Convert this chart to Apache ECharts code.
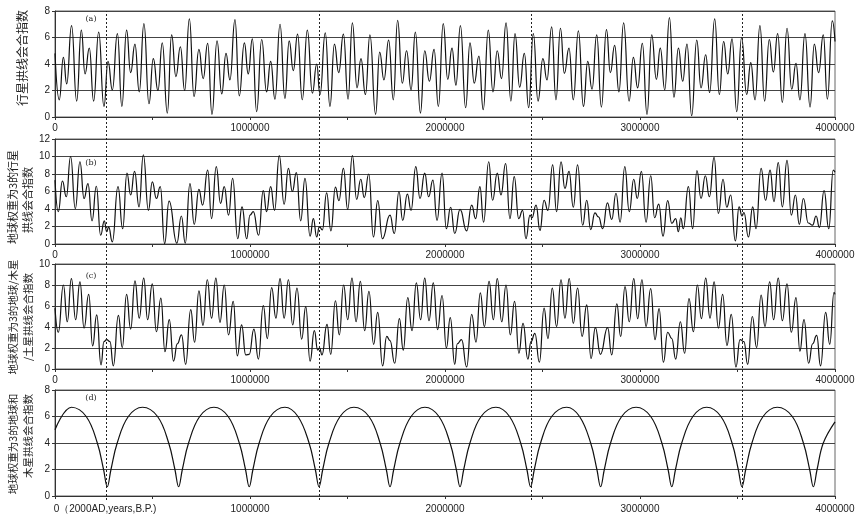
<!DOCTYPE html>
<html>
<head>
<meta charset="utf-8">
<title>行星拱线会合指数</title>
<script src="https://cdn.jsdelivr.net/npm/echarts@6/dist/echarts.min.js"></script>
<style>
html,body{margin:0;padding:0;background:#fff;}
#chart_main{width:862px;height:522px;}
</style>
</head>
<body>
<div id="chart_main"></div>
<script>
/*---------------- data: [千年 B.P., 指数] ----------------*/
var curveA = [[0,4.8],[22,1.3],[43,4.5],[60,2.5],[85,6.9],[111,1.2],[135,6.55],[154,3.25],[176,5.2],[198,1.2],[224,6.4],[251,0.8],[272,4.2],[294,2.05],[320,6.3],[343,0.8],[367,6.55],[388,3.35],[410,5.5],[432,1.9],[456,7.05],[482,1.0],[504,4.4],[528,2.0],[550,5.6],[576,0.3],[598,6.2],[620,3.05],[643,5.3],[665,2.0],[689,7.4],[713,1.55],[738,5.1],[760,2.9],[783,5.55],[805,0.2],[831,5.75],[855,1.75],[877,4.8],[897,2.8],[923,7.35],[945,1.6],[971,5.6],[991,3.25],[1012,5.9],[1034,0.4],[1060,5.85],[1085,1.9],[1106,4.2],[1128,1.35],[1154,7.0],[1179,1.4],[1201,5.75],[1222,3.5],[1244,6.25],
  [1268,1.3],[1294,6.55],[1320,1.8],[1342,4.0],[1359,1.7],[1386,6.35],[1410,0.8],[1433,5.5],[1455,3.35],[1479,6.25],[1503,1.35],[1525,7.1],[1549,2.2],[1569,4.4],[1592,1.7],[1615,6.2],[1644,0.2],[1665,4.9],[1687,2.8],[1711,5.8],[1735,1.3],[1757,7.3],[1781,2.55],[1803,5.0],[1826,2.05],[1848,6.4],[1874,0.3],[1896,5.0],[1920,2.7],[1944,5.1],[1966,0.8],[1991,7.05],[2014,2.85],[2036,5.2],[2056,2.4],[2079,6.9],[2106,0.7],[2128,5.6],[2150,2.55],[2174,4.6],[2196,0.55],[2222,6.55],[2246,1.9],[2268,5.0],[2290,2.9],[2313,7.1],[2338,1.2],[2359,6.3],[2383,2.25],[2407,4.8],[2429,0.7],[2453,6.3],[2477,1.2],[2502,4.4],[2523,2.8],[2547,6.8],[2569,1.3],[2592,6.7],
  [2612,3.3],[2636,5.2],[2658,1.3],[2684,6.5],[2710,0.8],[2732,4.2],[2754,2.1],[2778,6.2],[2802,0.75],[2828,6.6],[2848,3.35],[2870,5.4],[2892,1.9],[2916,7.1],[2944,1.2],[2966,4.5],[2988,2.2],[3012,5.55],[3036,0.2],[3060,6.2],[3084,2.85],[3104,5.2],[3127,2.05],[3151,7.5],[3174,1.5],[3197,5.2],[3219,2.7],[3241,5.5],[3265,0.1],[3291,5.8],[3313,2.2],[3337,4.7],[3357,1.85],[3383,7.4],[3407,1.7],[3429,5.7],[3450,3.25],[3472,5.9],[3496,0.4],[3521,6.0],[3547,1.7],[3568,4.1],[3590,1.3],[3615,6.9],[3639,1.2],[3663,5.85],[3684,3.4],[3706,6.3],[3730,1.1],[3754,6.7],[3778,2.1],[3800,4.05],[3820,1.3],[3846,6.3],[3872,0.75],[3894,5.5],[3916,3.35],[3940,6.2],[3961,1.35],[3986,7.25],[4000,5.7]];

var curveB = [[0,7.3],[17,3.7],[38,7.2],[58,5.4],[80,10.0],[104,4.05],[128,9.4],[149,5.2],[169,6.9],[190,2.65],[212,6.6],[234,1.0],[253,2.65],[265,1.4],[275,1.95],[294,0.25],[323,6.55],[347,1.75],[369,8.1],[388,5.6],[408,8.3],[431,4.25],[453,10.2],[479,3.85],[499,7.1],[520,5.2],[540,6.55],[562,0.05],[585,4.9],[625,0.1],[648,3.2],[668,0.1],[692,6.9],[714,2.25],[738,6.25],[757,4.45],[783,8.45],[803,2.9],[827,8.85],[849,4.65],[868,6.55],[890,3.3],[911,7.5],[937,0.6],[959,4.25],[983,0.6],[1000,3.3],[1017,3.7],[1044,1.0],[1068,6.1],[1085,3.7],[1106,6.55],[1126,3.85],[1150,10.1],
  [1175,4.55],[1197,8.65],[1217,6.0],[1238,8.15],[1260,2.65],[1282,7.5],[1308,0.9],[1325,2.9],[1342,0.8],[1356,2.0],[1371,1.6],[1393,5.85],[1415,1.5],[1438,6.5],[1456,4.95],[1479,8.65],[1501,3.95],[1525,10.1],[1547,5.1],[1568,7.4],[1586,5.3],[1609,8.0],[1633,0.8],[1655,4.95],[1679,0.6],[1718,3.3],[1740,1.2],[1764,6.0],[1783,2.7],[1807,5.7],[1826,3.85],[1850,8.85],[1872,5.2],[1896,8.1],[1916,5.4],[1938,7.3],[1959,2.7],[1985,8.1],[2007,1.75],[2029,4.2],[2050,1.2],[2077,3.95],[2111,1.5],[2137,4.45],[2157,2.9],[2179,6.55],[2198,2.5],[2224,9.4],[2244,5.0],[2268,8.1],[2287,5.6],[2311,9.2],[2333,2.9],[2355,7.7],[2378,2.9],[2398,3.85],[2415,0.6],[2436,3.3],[2446,3.0],[2467,4.45],[2487,1.55],[2508,5.0],[2528,3.85],[2552,9.05],[2572,3.7],[2595,9.4],[2615,6.35],[2636,8.3],[2658,4.2],[2680,9.05],
  [2706,2.15],[2727,5.0],[2747,1.65],[2769,3.55],[2787,3.1],[2809,1.75],[2833,4.7],[2855,2.8],[2877,5.8],[2898,2.5],[2922,8.85],[2945,3.7],[2968,7.4],[2986,5.2],[3007,8.3],[3031,2.5],[3055,7.8],[3075,3.0],[3096,4.55],[3118,0.9],[3142,4.95],[3163,2.35],[3183,2.9],[3197,1.4],[3209,3.0],[3222,1.75],[3248,6.55],[3270,1.75],[3292,8.4],[3313,5.2],[3335,7.8],[3356,5.4],[3380,9.9],[3402,3.5],[3426,7.4],[3445,4.2],[3465,5.6],[3489,0.35],[3508,4.25],[3523,3.2],[3533,3.6],[3556,0.8],[3578,4.25],[3595,1.75],[3621,8.65],[3644,5.0],[3667,8.45],[3687,4.85],[3709,9.3],[3730,4.25],[3754,9.55],[3776,3.3],[3797,5.6],[3817,2.25],[3838,5.2],[3863,2.4],[3885,2.15],[3903,3.2],[3920,1.9],[3944,6.1],[3968,1.75],[3991,8.45],[4000,8.2]];

var curveC = [[0,5.8],[17,3.5],[43,8.0],[63,4.5],[84,8.6],[106,4.7],[128,8.3],[149,3.9],[173,7.1],[193,2.2],[214,5.15],[236,0.4],[251,2.6],[265,2.8],[282,2.6],[299,0.3],[325,5.1],[345,2.05],[367,7.1],[388,3.8],[410,8.4],[432,4.85],[455,8.65],[475,4.7],[499,8.1],[520,3.55],[543,6.75],[564,1.65],[586,4.7],[608,0.75],[627,2.4],[649,3.25],[670,0.45],[696,5.65],[716,2.55],[738,7.45],[759,4.15],[781,8.5],[803,4.85],[825,8.65],[846,4.45],[868,8.0],[890,3.25],[914,6.45],[935,1.25],[957,4.2],[978,1.35],[996,1.4],[1020,3.8],[1043,0.95],[1068,6.05],[1089,2.9],[1111,7.75],[1133,4.85],[1154,8.6],
  [1175,4.85],[1197,8.5],[1219,4.2],[1241,7.7],[1265,2.85],[1286,5.95],[1308,0.75],[1330,3.65],[1347,1.8],[1357,2.0],[1369,1.35],[1395,4.25],[1414,1.4],[1438,6.5],[1458,3.25],[1480,8.0],[1501,4.7],[1523,8.65],[1544,4.5],[1566,8.35],[1588,3.65],[1610,7.4],[1634,2.35],[1655,5.4],[1680,0.3],[1701,3.1],[1718,2.7],[1742,0.55],[1766,4.8],[1786,1.8],[1809,6.8],[1831,3.65],[1853,8.2],[1875,4.7],[1896,8.65],[1918,4.6],[1940,8.2],[1962,3.75],[1985,7.0],[2007,2.0],[2027,4.9],[2050,0.45],[2063,2.4],[2085,2.8],[2111,0.2],[2137,5.2],[2159,2.55],[2181,7.25],[2202,4.05],[2226,8.35],[2248,4.7],[2268,8.6],[2291,4.5],[2313,8.0],[2335,3.25],[2357,6.45],[2379,1.5],[2400,4.35],[2425,0.95],[2441,2.6],[2461,3.4],[2484,0.65],[2508,5.8],[2528,2.9],[2550,7.7],[2572,4.05],[2595,8.5],[2615,4.85],[2637,8.6],[2658,4.35],[2680,7.7],
  [2703,3.1],[2727,6.1],[2749,1.0],[2771,3.95],[2797,1.4],[2834,3.95],[2855,1.35],[2881,6.2],[2901,3.1],[2923,7.85],[2945,4.5],[2968,8.6],[2988,4.8],[3010,8.5],[3031,4.05],[3055,7.65],[3077,2.8],[3098,5.75],[3120,0.65],[3142,3.5],[3163,2.9],[3183,0.95],[3207,4.5],[3229,1.5],[3251,6.7],[3274,3.55],[3294,8.0],[3315,4.8],[3337,8.65],[3359,4.85],[3380,8.3],[3402,3.9],[3424,7.1],[3446,2.25],[3468,5.2],[3492,0.2],[3513,2.8],[3533,2.6],[3552,0.45],[3576,5.0],[3598,2.05],[3621,7.05],[3641,4.05],[3665,8.3],[3685,4.7],[3709,8.65],[3730,4.6],[3754,8.1],[3776,3.5],[3800,6.8],[3820,1.7],[3841,4.7],[3865,0.55],[3885,2.4],[3906,3.2],[3926,0.3],[3952,5.4],[3973,2.35],[3995,7.3],[4000,7.1]];

var curveD = [[0,5.0],[85,6.7],
  [160,6.0],[217,4.0],[249,2.0],[268,0.7],[287,2.0],[319,4.0],[376,6.0],[449,6.7],
  [526,6.0],[583,4.0],[615,2.0],[634,0.7],[653,2.0],[685,4.0],[742,6.0],[815,6.7],
  [888,6.0],[945,4.0],[977,2.0],[996,0.7],[1015,2.0],[1047,4.0],[1104,6.0],[1179,6.7],
  [1246,6.0],[1303,4.0],[1335,2.0],[1354,0.7],[1373,2.0],[1405,4.0],[1462,6.0],[1533,6.7],
  [1610,6.0],[1667,4.0],[1699,2.0],[1718,0.7],[1737,2.0],[1769,4.0],[1826,6.0],[1897,6.7],
  [1969,6.0],[2026,4.0],[2058,2.0],[2077,0.7],[2096,2.0],[2128,4.0],[2185,6.0],[2261,6.7],
  [2331,6.0],[2388,4.0],[2420,2.0],[2439,0.7],[2458,2.0],[2490,4.0],[2547,6.0],[2624,6.7],
  [2690,6.0],[2747,4.0],[2779,2.0],[2798,0.7],[2817,2.0],[2849,4.0],[2906,6.0],[2980,6.7],
  [3055,6.0],[3112,4.0],[3144,2.0],[3163,0.7],[3182,2.0],[3214,4.0],[3271,6.0],[3342,6.7],
  [3415,6.0],[3472,4.0],[3504,2.0],[3523,0.7],[3542,2.0],[3574,4.0],[3631,6.0],[3704,6.7],
  [3781,6.0],[3838,4.0],[3870,2.0],[3889,0.7],[3908,2.0],[3940,4.0],[4000,5.6]];

var dashKa = [262, 1354, 2441, 3523];          // 竖虚线
var yMaxList = [8, 12, 10, 8];
var xLabelVals = [0, 1000000, 2000000, 3000000, 4000000];
var panelTags = ['(a)', '(b)', '(c)', '(d)'];
var axisNames = [
    ['行星拱线会合指数'],
    ['地球权重为3的行星', '拱线会合指数'],
    ['地球权重为3的地球/木星', '/土星拱线会合指数'],
    ['地球权重为3的地球和', '木星拱线会合指数']
];
var firstLabelD = '0（2000AD,years,B.P.)';

/*---------------- chart ----------------*/
function showMainChart(){
    var myChart = echarts.init(document.getElementById('chart_main'));
    var numFont = '"Liberation Sans", Arial, sans-serif';
    var cjkFont = '"Noto Sans CJK SC", sans-serif';

    var gridTop = [11, 139, 264, 390];
    var gridH = [106, 105, 105, 106];
    var curves = [curveA, curveB, curveC, curveD];

    var grids = [], xAxes = [], yAxes = [], seriesList = [];
    for (var i = 0; i < 4; i++) {
        grids.push({left: 55, right: 27, top: gridTop[i], height: gridH[i],
            show: true, borderColor: '#666', borderWidth: 1, backgroundColor: 'transparent'});

        var lab = {
            fontSize: 10, color: '#222', fontFamily: numFont, margin: 6,
            formatter: function (v) {
                return xLabelVals.indexOf(v) >= 0 ? String(v) : '';
            }
        };
        if (i === 3) {
            lab.margin = 8;
            lab.formatter = function (v) {
                if (v === 0) return '{o|' + firstLabelD + '}';
                return xLabelVals.indexOf(v) >= 0 ? String(v) : '';
            };
            lab.rich = {o: {fontSize: 10, color: '#222', fontFamily: numFont, padding: [0, 0, 0, 100]}};
        }
        xAxes.push({
            type: 'value', gridIndex: i, min: 0, max: 4000000, interval: 500000,
            axisLine: {show: true, lineStyle: {color: '#333', width: 1}},
            axisTick: {show: true, length: 3, lineStyle: {color: '#333'}},
            axisLabel: lab,
            splitLine: {show: false}
        });
        yAxes.push({
            type: 'value', gridIndex: i, min: 0, max: yMaxList[i], interval: 2,
            axisLine: {show: true, lineStyle: {color: '#333', width: 1}},
            axisTick: {show: true, length: 3, lineStyle: {color: '#333'}},
            axisLabel: {fontSize: 10, color: '#222', fontFamily: numFont, margin: 5},
            splitLine: {show: true, lineStyle: {color: '#444', width: 1}}
        });
        seriesList.push({
            type: 'line', xAxisIndex: i, yAxisIndex: i,
            data: curves[i].map(function (p) { return [p[0] * 1000, p[1]]; }),
            showSymbol: false, symbol: 'none',
            smooth: i === 3 ? 0.4 : 0.5,
            smoothMonotone: i === 3 ? null : 'x',
            lineStyle: {color: '#111', width: 1.2},
            silent: true
        });
    }

    // 叠加层: 贯穿四幅图的竖虚线
    grids.push({left: 55, right: 27, top: 11, bottom: 22, show: false});
    xAxes.push({type: 'value', gridIndex: 4, min: 0, max: 4000000, show: false});
    yAxes.push({type: 'value', gridIndex: 4, min: 0, max: 1, show: false});
    seriesList.push({
        type: 'line', xAxisIndex: 4, yAxisIndex: 4,
        data: [[0, 0], [4000000, 0]],
        showSymbol: false, symbol: 'none', lineStyle: {opacity: 0}, silent: true,
        markLine: {
            silent: true, symbol: ['none', 'none'], label: {show: false},
            lineStyle: {color: '#222', width: 1, type: [2, 2]},
            data: dashKa.map(function (k) { return {xAxis: k * 1000}; })
        }
    });

    // 纵轴名称 + 分图标记
    var graphics = [];
    var nameLayout = [
        [{x: 22, y: 58, fs: 12}],
        [{x: 13, y: 197, fs: 11}, {x: 28, y: 200, fs: 11}],
        [{x: 13, y: 317, fs: 10.5}, {x: 28, y: 317, fs: 10.5}],
        [{x: 13, y: 444, fs: 10.5}, {x: 28, y: 436, fs: 10.5}]
    ];
    for (var p = 0; p < 4; p++) {
        for (var l = 0; l < axisNames[p].length; l++) {
            var lay = nameLayout[p][l];
            graphics.push({
                type: 'text', x: lay.x, y: lay.y, rotation: Math.PI / 2, silent: true,
                style: {text: axisNames[p][l], fontSize: lay.fs, fontFamily: cjkFont,
                    fill: '#222', align: 'center', verticalAlign: 'middle'}
            });
        }
    }
    var tagY = [19, 163, 276, 398];
    for (var t = 0; t < 4; t++) {
        graphics.push({
            type: 'text', x: 91, y: tagY[t], silent: true,
            style: {text: panelTags[t], fontSize: 8, fontFamily: '"DejaVu Serif", serif',
                fill: '#222', align: 'center', verticalAlign: 'middle'}
        });
    }

    var optionMain = {
        backgroundColor: '#fff',
        animation: false,
        grid: grids,
        xAxis: xAxes,
        yAxis: yAxes,
        series: seriesList,
        graphic: graphics
    };
    myChart.setOption(optionMain);
}
showMainChart();
</script>
</body>
</html>
